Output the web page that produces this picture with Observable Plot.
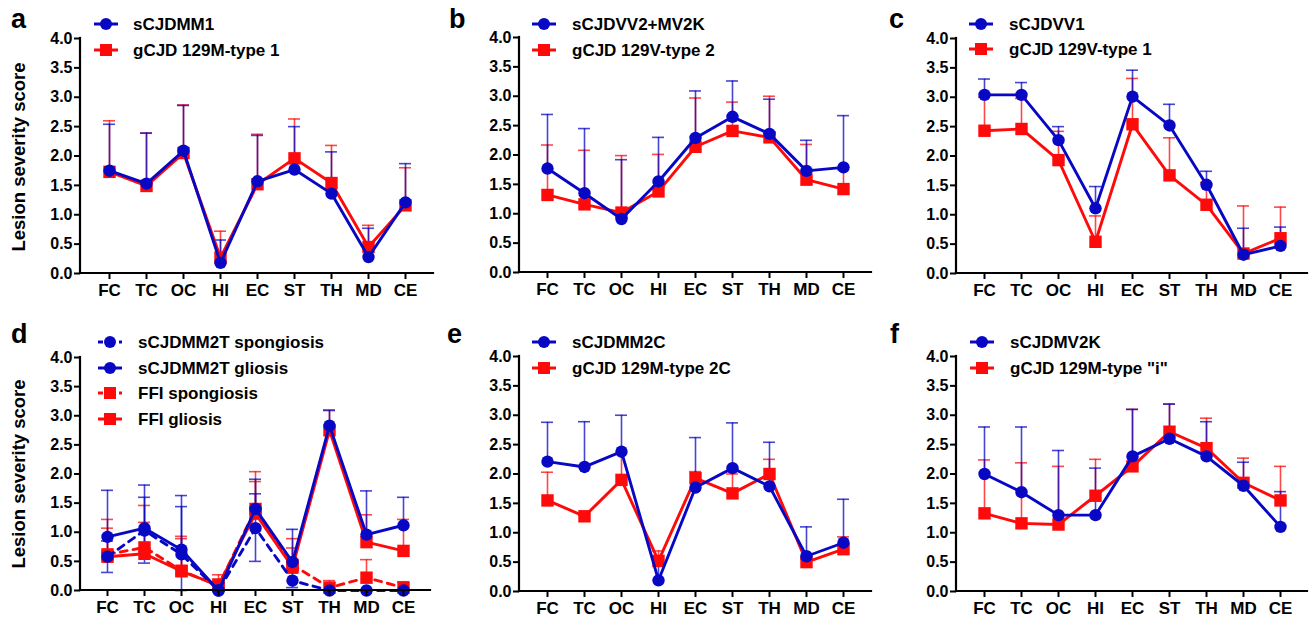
<!DOCTYPE html>
<html>
<head>
<meta charset="utf-8">
<script src="https://cdn.jsdelivr.net/npm/d3@7"></script>
<script src="https://cdn.jsdelivr.net/npm/@observablehq/plot@0.6"></script>
<style>
  html, body { margin: 0; padding: 0; background: #fff; }
  #root { position: relative; width: 1312px; height: 617px; overflow: hidden; font-family: "Liberation Sans", Arial, sans-serif; }
  .abs { position: absolute; }
  .letter { font-weight: bold; font-size: 27px; line-height: 1; }
  .ylab { font-weight: bold; font-size: 18.5px; white-space: nowrap; transform: translate(-50%, -50%) rotate(-90deg); line-height: 1; }
  .leg { font-weight: bold; font-size: 17px; white-space: nowrap; line-height: 1; transform: translateY(-50%); }
</style>
</head>
<body>
<div id="root"></div>
<script>
const cats = ["FC", "TC", "OC", "HI", "EC", "ST", "TH", "MD", "CE"];
const yTicks = [0, 0.5, 1, 1.5, 2, 2.5, 3, 3.5, 4];
const BLUE = "#0808c4";
const RED = "#ff0a0a";

// Panel a
const aBlueName = "sCJDMM1";
const aBlue = [1.75, 1.53, 2.09, 0.18, 1.57, 1.77, 1.36, 0.28, 1.21];
const aBlueHi = [2.54, 2.39, 2.86, 0.57, 2.35, 2.50, 2.07, 0.77, 1.87];
const aRedName = "gCJD 129M-type 1";
const aRed = [1.73, 1.49, 2.05, 0.27, 1.52, 1.96, 1.54, 0.45, 1.16];
const aRedHi = [2.60, 2.39, 2.87, 0.72, 2.37, 2.63, 2.18, 0.82, 1.80];

// Panel b
const bBlueName = "sCJDVV2+MV2K";
const bBlue = [1.77, 1.35, 0.91, 1.55, 2.29, 2.65, 2.36, 1.73, 1.79];
const bBlueHi = [2.69, 2.45, 1.92, 2.30, 3.09, 3.26, 2.95, 2.25, 2.67];
const bRedName = "gCJD 129V-type 2";
const bRed = [1.32, 1.16, 1.02, 1.38, 2.14, 2.41, 2.30, 1.58, 1.42];
const bRedHi = [2.17, 2.08, 1.99, 2.01, 2.97, 2.90, 3.00, 2.18, 1.75];

// Panel c
const cBlueName = "sCJDVV1";
const cBlue = [3.04, 3.04, 2.27, 1.11, 3.01, 2.52, 1.51, 0.32, 0.47];
const cBlueHi = [3.31, 3.25, 2.50, 1.48, 3.46, 2.88, 1.74, 0.77, 0.79];
const cRedName = "gCJD 129V-type 1";
const cRed = [2.43, 2.46, 1.93, 0.54, 2.54, 1.67, 1.17, 0.34, 0.60];
const cRedHi = [3.00, 2.98, 2.42, 0.98, 3.32, 2.31, 1.55, 1.15, 1.13];

// Panel d
const dBlueSpName = "sCJDMM2T spongiosis";
const dBlueSp = [0.58, 1.03, 0.62, 0.00, 1.07, 0.17, 0.00, 0.00, 0.00];
const dBlueSpHi = [0.85, 1.60, 1.44, 0.00, 1.66, 0.30, 0.00, 0.00, 0.00];
const dBlueSpLo = [0.31, 0.47, 0.00, 0.00, 0.50, 0.05, 0.00, 0.00, 0.00];
const dBlueGlName = "sCJDMM2T gliosis";
const dBlueGl = [0.92, 1.07, 0.70, 0.00, 1.40, 0.49, 2.83, 0.96, 1.12];
const dBlueGlHi = [1.72, 1.81, 1.63, 0.00, 1.91, 1.05, 3.09, 1.71, 1.60];
const dRedSpName = "FFI spongiosis";
const dRedSp = [0.62, 0.74, 0.34, 0.08, 1.40, 0.44, 0.05, 0.22, 0.05];
const dRedSpHi = [1.07, 1.17, 0.89, 0.20, 1.87, 0.73, 0.17, 0.53, 0.15];
const dRedGlName = "FFI gliosis";
const dRedGl = [0.58, 0.63, 0.33, 0.09, 1.32, 0.40, 2.75, 0.83, 0.68];
const dRedGlHi = [1.22, 1.46, 0.93, 0.27, 2.04, 0.89, 3.10, 1.30, 1.22];

// Panel e
const eBlueName = "sCJDMM2C";
const eBlue = [2.21, 2.12, 2.38, 0.19, 1.77, 2.10, 1.79, 0.60, 0.83];
const eBlueHi = [2.88, 2.89, 3.00, 0.56, 2.62, 2.87, 2.54, 1.10, 1.57];
const eRedName = "gCJD 129M-type 2C";
const eRed = [1.55, 1.28, 1.90, 0.52, 1.93, 1.67, 2.00, 0.50, 0.72];
const eRedHi = [2.03, 1.30, 2.35, 0.69, 2.04, 2.00, 2.25, 0.55, 0.93];

// Panel f
const fBlueName = "sCJDMV2K";
const fBlue = [2.00, 1.69, 1.30, 1.30, 2.30, 2.60, 2.30, 1.80, 1.10];
const fBlueHi = [2.80, 2.80, 2.40, 2.10, 3.10, 3.19, 2.89, 2.20, 1.70];
const fRedName = 'gCJD 129M-type "i"';
const fRed = [1.33, 1.16, 1.14, 1.63, 2.13, 2.72, 2.44, 1.85, 1.55];
const fRedHi = [2.24, 2.19, 2.13, 2.25, 3.10, 3.19, 2.95, 2.27, 2.13];

const root = document.getElementById("root");
const FONT = '"Liberation Sans", Arial, sans-serif';
const SVGNS = "http://www.w3.org/2000/svg";

function rows(values, hi, lo) {
  return cats.map((c, i) => ({cat: c, v: values[i], hi: hi[i], lo: lo ? lo[i] : values[i]}));
}

function panel(p) {
  const marks = [];
  for (const s of p.series) {
    const r = rows(s.values, s.hi, s.lo);
    marks.push(Plot.ruleX(r, {x: "cat", y1: "lo", y2: "hi", stroke: s.color, strokeWidth: 1.6, strokeOpacity: 0.75}));
    marks.push(Plot.tickY(r, {x: "cat", y: "hi", stroke: s.color, strokeWidth: 1.6, strokeOpacity: 0.75}));
    if (s.lo) marks.push(Plot.tickY(r, {x: "cat", y: "lo", stroke: s.color, strokeWidth: 1.6, strokeOpacity: 0.75}));
  }
  for (const s of p.series) {
    const r = rows(s.values, s.hi, s.lo);
    marks.push(Plot.line(r, {x: "cat", y: "v", stroke: s.color, strokeWidth: 2.9, strokeDasharray: s.dash ? "7,6" : null}));
    if (s.symbol === "square") {
      marks.push(Plot.dot(r, {x: "cat", y: "v", fill: s.color, symbol: "square", r: 7}));
    } else {
      marks.push(Plot.dot(r, {x: "cat", y: "v", fill: s.color, symbol: "circle", r: 6.2}));
    }
  }
  marks.push(Plot.axisY({ticks: yTicks, tickFormat: d3.format(".1f"), tickSize: 6, tickPadding: 2, strokeWidth: 2, stroke: "black", fontSize: 16, fontWeight: "bold", label: null}));
  marks.push(Plot.axisX({tickSize: 6, tickPadding: 4, strokeWidth: 2, stroke: "black", fontSize: 17, fontWeight: "bold", label: null}));
  const chart = Plot.plot({
    width: p.w, height: p.h,
    marginLeft: p.ml, marginRight: p.mr, marginTop: p.mt, marginBottom: p.mb,
    x: {type: "band", domain: cats, paddingInner: 0.68, paddingOuter: 0.5},
    y: {domain: [0, 4]},
    style: {fontFamily: FONT, color: "black", background: "transparent", overflow: "visible"},
    marks
  });
  chart.style.position = "absolute";
  chart.style.left = p.left + "px";
  chart.style.top = p.top + "px";

  const xr = chart.scale("x").range;
  const yr = chart.scale("y").range;
  const g = d3.select(chart).append("g").attr("stroke", "black").attr("stroke-width", 2.2).attr("stroke-linecap", "square");
  g.append("line").attr("x1", xr[0]).attr("x2", xr[0]).attr("y1", Math.min(...yr)).attr("y2", Math.max(...yr));
  g.append("line").attr("x1", xr[0]).attr("x2", xr[1]).attr("y1", Math.max(...yr)).attr("y2", Math.max(...yr));
  root.appendChild(chart);

  const L = document.createElement("div");
  L.className = "abs letter";
  L.textContent = p.letter;
  L.style.left = p.letterX + "px";
  L.style.top = p.letterY + "px";
  root.appendChild(L);

  p.legend.forEach((s, i) => {
    const y = p.legY + i * p.legDy;
    const sym = document.createElementNS(SVGNS, "svg");
    sym.setAttribute("width", 28); sym.setAttribute("height", 20);
    sym.style.position = "absolute";
    sym.style.left = p.symX + "px";
    sym.style.top = (y - 10) + "px";
    let inner = "";
    if (s.dash) {
      inner += `<line x1="1" y1="10" x2="6" y2="10" stroke="${s.color}" stroke-width="3"/>`;
      inner += `<line x1="22" y1="10" x2="25" y2="10" stroke="${s.color}" stroke-width="3"/>`;
    } else {
      inner += `<line x1="1" y1="10" x2="25" y2="10" stroke="${s.color}" stroke-width="3"/>`;
    }
    if (s.symbol === "square") inner += `<rect x="7" y="4" width="12" height="12" fill="${s.color}"/>`;
    else inner += `<circle cx="13" cy="10" r="6" fill="${s.color}"/>`;
    sym.innerHTML = inner;
    root.appendChild(sym);
    const t = document.createElement("div");
    t.className = "abs leg";
    t.textContent = s.name;
    t.style.left = p.textX + "px";
    t.style.top = y + "px";
    root.appendChild(t);
  });

  if (p.ylabY) {
    const yl = document.createElement("div");
    yl.className = "abs ylab";
    yl.textContent = "Lesion severity score";
    yl.style.left = "19px";
    yl.style.top = p.ylabY + "px";
    root.appendChild(yl);
  }
}

const blueS = (name, values, hi, extra) => Object.assign({name, values, hi, color: BLUE, symbol: "circle"}, extra || {});
const redS = (name, values, hi, extra) => Object.assign({name, values, hi, color: RED, symbol: "square"}, extra || {});

function twoSeries(blue, red) {
  return {series: [red, blue], legend: [blue, red]};
}

const A = twoSeries(blueS(aBlueName, aBlue, aBlueHi), redS(aRedName, aRed, aRedHi));
const B = twoSeries(blueS(bBlueName, bBlue, bBlueHi), redS(bRedName, bRed, bRedHi));
const C = twoSeries(blueS(cBlueName, cBlue, cBlueHi), redS(cRedName, cRed, cRedHi));
const E = twoSeries(blueS(eBlueName, eBlue, eBlueHi), redS(eRedName, eRed, eRedHi));
const F = twoSeries(blueS(fBlueName, fBlue, fBlueHi), redS(fRedName, fRed, fRedHi));
const dBS = blueS(dBlueSpName, dBlueSp, dBlueSpHi, {dash: true, lo: dBlueSpLo});
const dBG = blueS(dBlueGlName, dBlueGl, dBlueGlHi);
const dRS = redS(dRedSpName, dRedSp, dRedSpHi, {dash: true});
const dRG = redS(dRedGlName, dRedGl, dRedGlHi);

panel(Object.assign({letter: "a", left: 0, top: 0, w: 440, h: 300, ml: 80, mr: 7, mt: 38, mb: 27,
  letterX: 11, letterY: 6, symX: 93, textX: 133, legY: 24, legDy: 26, ylabY: 157}, A));
panel(Object.assign({letter: "b", left: 440, top: 0, w: 440, h: 300, ml: 79, mr: 9, mt: 37, mb: 28,
  letterX: 449, letterY: 6, symX: 531, textX: 572, legY: 24, legDy: 26}, B));
panel(Object.assign({letter: "c", left: 875, top: 0, w: 437, h: 300, ml: 81, mr: 5, mt: 38, mb: 27,
  letterX: 889, letterY: 6, symX: 968, textX: 1009, legY: 24, legDy: 25}, C));
panel({letter: "d", left: 0, top: 300, w: 440, h: 317, ml: 80, mr: 10, mt: 57, mb: 27,
  letterX: 11, letterY: 321, symX: 97, textX: 138, legY: 342, legDy: 25.5, ylabY: 474,
  series: [dRS, dRG, dBS, dBG], legend: [dBS, dBG, dRS, dRG]});
panel(Object.assign({letter: "e", left: 440, top: 300, w: 440, h: 317, ml: 79, mr: 9, mt: 56, mb: 26,
  letterX: 447, letterY: 321, symX: 531, textX: 572, legY: 342, legDy: 26}, E));
panel(Object.assign({letter: "f", left: 875, top: 300, w: 437, h: 317, ml: 81, mr: 5, mt: 56, mb: 26,
  letterX: 890, letterY: 321, symX: 969, textX: 1010, legY: 342, legDy: 26}, F));
</script>
</body>
</html>
